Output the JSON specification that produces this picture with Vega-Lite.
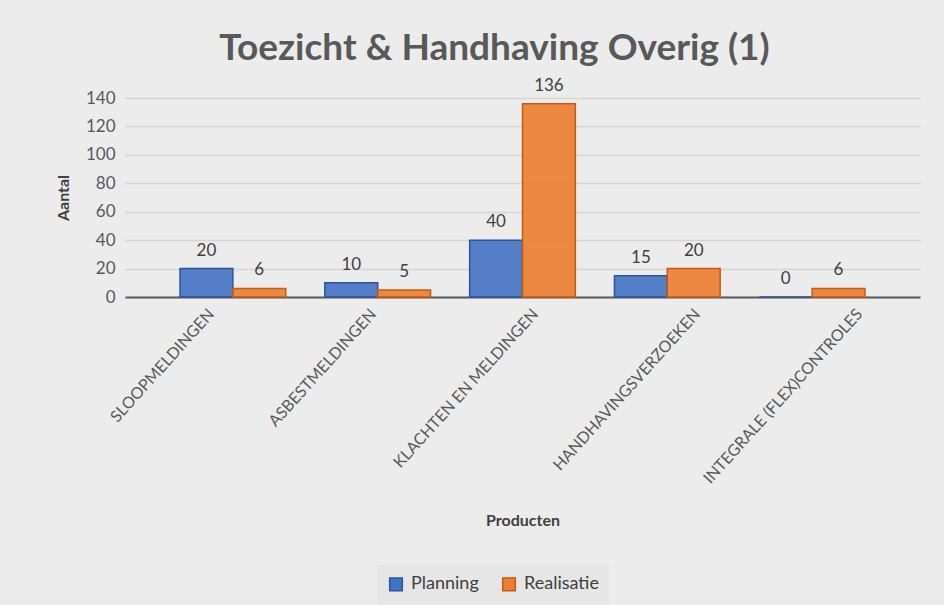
{
  "$schema": "https://vega.github.io/schema/vega-lite/v6.json",
  "autosize": {"type": "none"},
  "width": 795,
  "height": 199,
  "padding": {"left": 125, "top": 98, "right": 24, "bottom": 308},
  "background": "#ececec",
  "config": {
    "font": "Lato",
    "view": {"stroke": null},
    "axis": {"labelColor": "#595959", "titleColor": "#404040", "labelFont": "Lato", "titleFont": "Lato"}
  },
  "title": {
    "text": "Toezicht & Handhaving Overig (1)",
    "fontSize": 37,
    "fontWeight": "bold",
    "color": "#595959",
    "font": "Lato",
    "offset": 9,
    "dx": -28
  },
  "data": {
    "values": [
      {"product": "SLOOPMELDINGEN", "serie": "Planning", "aantal": 20},
      {"product": "SLOOPMELDINGEN", "serie": "Realisatie", "aantal": 6},
      {"product": "ASBESTMELDINGEN", "serie": "Planning", "aantal": 10},
      {"product": "ASBESTMELDINGEN", "serie": "Realisatie", "aantal": 5},
      {"product": "KLACHTEN EN MELDINGEN", "serie": "Planning", "aantal": 40},
      {"product": "KLACHTEN EN MELDINGEN", "serie": "Realisatie", "aantal": 136},
      {"product": "HANDHAVINGSVERZOEKEN", "serie": "Planning", "aantal": 15},
      {"product": "HANDHAVINGSVERZOEKEN", "serie": "Realisatie", "aantal": 20},
      {"product": "INTEGRALE (FLEX)CONTROLES", "serie": "Planning", "aantal": 0},
      {"product": "INTEGRALE (FLEX)CONTROLES", "serie": "Realisatie", "aantal": 6}
    ]
  },
  "encoding": {
    "y": {
      "field": "aantal",
      "type": "quantitative",
      "scale": {"domain": [0, 140]},
      "axis": {
        "title": "Aantal",
        "titleFontSize": 16,
        "titleFontWeight": "bold",
        "titlePadding": 14,
        "values": [0, 20, 40, 60, 80, 100, 120, 140],
        "labelFontSize": 17,
        "labelPadding": 10,
        "ticks": false,
        "domain": false,
        "gridColor": "#d4d4d4",
        "gridWidth": 1.5
      }
    }
  },
  "layer": [
    {
      "layer": [
        {
          "mark": {"type": "bar", "strokeWidth": 1.5, "fillOpacity": 0.9},
          "encoding": {
            "color": {
              "field": "serie",
              "type": "nominal",
              "scale": {"domain": ["Planning", "Realisatie"], "range": ["#4472C4", "#ED7D31"]},
              "legend": {
                "title": null,
                "orient": "none",
                "direction": "horizontal",
                "legendX": 252,
                "legendY": 467,
                "symbolType": "square",
                "symbolSize": 160,
                "symbolStrokeWidth": 1.5,
                "labelFontSize": 18,
                "labelColor": "#404040",
                "fillColor": "#e6e6e6",
                "padding": 10,
                "columnPadding": 20,
                "labelOffset": 6
              }
            },
            "stroke": {
              "field": "serie",
              "type": "nominal",
              "scale": {"domain": ["Planning", "Realisatie"], "range": ["#2F5597", "#C55A11"]},
              "legend": null
            }
          }
        },
        {
          "mark": {"type": "text", "dy": -18, "fontSize": 17, "color": "#404040"},
          "encoding": {"text": {"field": "aantal", "type": "quantitative"}}
        }
      ],
      "encoding": {
        "x": {
          "field": "product",
          "type": "nominal",
          "sort": null,
          "scale": {"paddingInner": 0.27, "paddingOuter": 0.38},
          "axis": null
        },
        "xOffset": {"field": "serie", "type": "nominal"}
      }
    },
    {
      "mark": {"type": "tick", "opacity": 0},
      "encoding": {
        "x": {
          "field": "product",
          "type": "nominal",
          "sort": null,
          "scale": {"paddingInner": 0.27, "paddingOuter": 0.088},
          "axis": {
            "title": "Producten",
            "titleFontSize": 16,
            "titleFontWeight": "bold",
            "titlePadding": 26,
            "labelAngle": -48,
            "labelFontSize": 16,
            "labelPadding": 14,
            "labelOffset": 13,
            "labelLimit": 300,
            "ticks": false,
            "domainColor": "#595959",
            "domainWidth": 2
          }
        }
      }
    }
  ],
  "resolve": {"scale": {"x": "independent"}}
}
